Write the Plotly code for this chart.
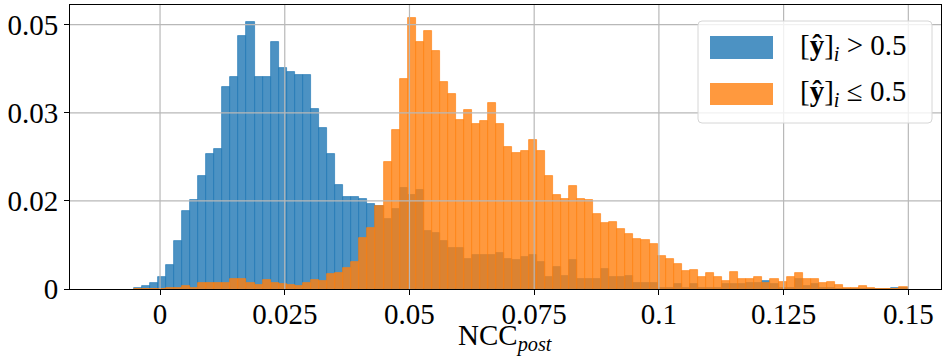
import numpy as np
import plotly.graph_objects as go

# ---- data ----
bin_start = -0.0053
bin_width = 0.001616
n_bins = 96

series_names = ["[<b>ŷ</b>]<sub><i>i</i></sub> > 0.5", "[<b>ŷ</b>]<sub><i>i</i></sub> ≤ 0.5"]
x_title = "NCC<sub><i>post</i></sub>"

blue_vals = [
    0.00025, 0.00062, 0.00119, 0.00233, 0.0046, 0.00914, 0.0148, 0.0169, 0.0214, 0.0256,
    0.0265, 0.0383, 0.0402, 0.0479, 0.0506, 0.0402, 0.0402, 0.0468, 0.0419, 0.0411,
    0.0405, 0.0405, 0.0341, 0.0305, 0.0256, 0.0197, 0.0175, 0.0175, 0.0171, 0.0161,
    0.0157, 0.0133, 0.0152, 0.0192, 0.0178, 0.0188, 0.0110, 0.0106, 0.0091, 0.0078,
    0.0078, 0.0057, 0.0065, 0.0065, 0.0065, 0.0069, 0.0057, 0.0055, 0.0061, 0.0065,
    0.0052, 0.0023, 0.0042, 0.0025, 0.0055, 0.0019, 0.0019, 0.0019, 0.0038, 0.0023,
    0.0023, 0.0025, 0.0012, 0.0012, 0.0012, 0.0002, 0.0002, 0.0010, 0.0001, 0.0010,
    0.0002, 0.0002, 0.0002, 0.0010, 0.0010, 0.0010, 0.0011, 0.0011, 0.0015, 0.0010,
    0.0002, 0.0002, 0.0019, 0.0006, 0.0010, 0.0002, 0.0002, 0.0, 0.0, 0.0,
    0.0, 0.0, 0.0, 0.0, 0.0002, 0.0002,
]

orange_vals = [
    0.0, 0.0, 0.0, 0.0, 0.00025, 0.00025, 0.0006, 0.00025, 0.0012, 0.0012,
    0.0012, 0.0012, 0.00195, 0.00195, 0.0012, 0.0008, 0.00176, 0.0012, 0.0010, 0.0008,
    0.0006, 0.0012, 0.00176, 0.0016, 0.0029, 0.0031, 0.0040, 0.0052, 0.0097, 0.0116,
    0.0157, 0.0241, 0.0301, 0.0398, 0.0513, 0.0468, 0.0489, 0.0451, 0.0392, 0.0368,
    0.0320, 0.0339, 0.0313, 0.0317, 0.0352, 0.0313, 0.0269, 0.0258, 0.0262, 0.0282,
    0.0262, 0.0214, 0.0178, 0.0171, 0.0195, 0.0171, 0.0169, 0.0141, 0.0125, 0.0127,
    0.0114, 0.0105, 0.0095, 0.0093, 0.0086, 0.0063, 0.0057, 0.0048, 0.0035, 0.0036,
    0.0023, 0.0031, 0.0023, 0.0016, 0.0033, 0.0018, 0.0018, 0.0023, 0.0011, 0.0018,
    0.0013, 0.0023, 0.0031, 0.0018, 0.0018, 0.0011, 0.0013, 0.0008, 0.0002, 0.0002,
    0.0006, 0.0002, 0.0, 0.0, 0.0, 0.0004,
]

x_tickvals = [0, 0.025, 0.05, 0.075, 0.1, 0.125, 0.15]
x_ticktext = ["0", "0.025", "0.05", "0.075", "0.1", "0.125", "0.15"]
y_tickvals = [0, 0.05 / 3, 0.1 / 3, 0.05]
y_ticktext = ["0", "0.02", "0.03", "0.05"]

# ---- styling ----
FONT = "Liberation Serif"
BLUE = "rgba(31,119,180,0.8)"
ORANGE = "rgba(255,127,14,0.8)"
BLUE_SOLID = "#4c92c3"
ORANGE_SOLID = "#ff993e"

centers = bin_start + (np.arange(n_bins) + 0.5) * bin_width

fig = go.Figure()
fig.add_trace(go.Bar(x=centers, y=blue_vals, width=bin_width, name="blue",
                     marker=dict(color=BLUE, line=dict(color=BLUE, width=0.8)),
                     showlegend=False))
fig.add_trace(go.Bar(x=centers, y=orange_vals, width=bin_width, name="orange",
                     marker=dict(color=ORANGE, line=dict(color=ORANGE, width=0.8)),
                     showlegend=False))

X_RANGE = [-0.01805, 0.15655]
Y_RANGE = [0, 0.05373]

shapes = []
grid_color = "#b8b8b8"
for v in x_tickvals:
    shapes.append(dict(type="line", xref="x", yref="paper", x0=v, x1=v, y0=0, y1=1,
                       line=dict(color=grid_color, width=1.2), layer="above"))
for v in y_tickvals[1:]:
    shapes.append(dict(type="line", xref="paper", yref="y", x0=0, x1=1, y0=v, y1=v,
                       line=dict(color=grid_color, width=1.2), layer="above"))

# custom legend (pixel -> paper helpers)
L, R, T, B = 70, 941, 5, 289
def px(x):
    return (x - L) / (R - L)
def py(y):
    return (B - y) / (B - T)

bx0, bx1, by0, by1, r = 698, 932, 21, 123, 4
path = (f"M {px(bx0 + r)} {py(by0)} L {px(bx1 - r)} {py(by0)} "
        f"Q {px(bx1)} {py(by0)} {px(bx1)} {py(by0 + r)} "
        f"L {px(bx1)} {py(by1 - r)} Q {px(bx1)} {py(by1)} {px(bx1 - r)} {py(by1)} "
        f"L {px(bx0 + r)} {py(by1)} Q {px(bx0)} {py(by1)} {px(bx0)} {py(by1 - r)} "
        f"L {px(bx0)} {py(by0 + r)} Q {px(bx0)} {py(by0)} {px(bx0 + r)} {py(by0)} Z")
shapes.append(dict(type="path", xref="paper", yref="paper", path=path,
                   fillcolor="rgba(255,255,255,0.8)", line=dict(color="#d6d6d6", width=1),
                   layer="above"))
shapes.append(dict(type="rect", xref="paper", yref="paper", x0=px(710), x1=px(773),
                   y0=py(59), y1=py(36), fillcolor=BLUE_SOLID, line=dict(width=0), layer="above"))
shapes.append(dict(type="rect", xref="paper", yref="paper", x0=px(710), x1=px(773),
                   y0=py(105), y1=py(83), fillcolor=ORANGE_SOLID, line=dict(width=0), layer="above"))

annotations = [
    dict(xref="paper", yref="paper", x=px(798), y=py(47), text=series_names[0],
         showarrow=False, xanchor="left", yanchor="middle",
         font=dict(family=FONT, size=29, color="black")),
    dict(xref="paper", yref="paper", x=px(798), y=py(93), text=series_names[1],
         showarrow=False, xanchor="left", yanchor="middle",
         font=dict(family=FONT, size=29, color="black")),
    dict(xref="paper", yref="paper", x=0.5, y=py(338), text=x_title,
         showarrow=False, xanchor="center", yanchor="middle",
         font=dict(family=FONT, size=29, color="black")),
]

fig.update_layout(
    width=942, height=360,
    margin=dict(l=L, r=942 - R, t=T, b=360 - B, autoexpand=False),
    barmode="overlay",
    bargap=0,
    plot_bgcolor="white", paper_bgcolor="white",
    shapes=shapes, annotations=annotations,
    font=dict(family=FONT, size=29, color="black"),
    xaxis=dict(range=X_RANGE, tickvals=x_tickvals, ticktext=x_ticktext, automargin=False,
               showgrid=False, zeroline=False, showline=True, linecolor="black",
               linewidth=1, mirror=True, ticks="outside", ticklen=5, tickwidth=1,
               tickcolor="black", tickfont=dict(family=FONT, size=29),
               ticklabelstandoff=-6),
    yaxis=dict(range=Y_RANGE, tickvals=y_tickvals, ticktext=y_ticktext, automargin=False,
               showgrid=False, zeroline=False, showline=True, linecolor="black",
               linewidth=1, mirror=True, ticks="outside", ticklen=5, tickwidth=1,
               tickcolor="black", tickfont=dict(family=FONT, size=29)),
)

fig.write_html("out.html", config={"displayModeBar": False},
               post_script="document.body.style.margin='0';document.body.style.padding='0';")
